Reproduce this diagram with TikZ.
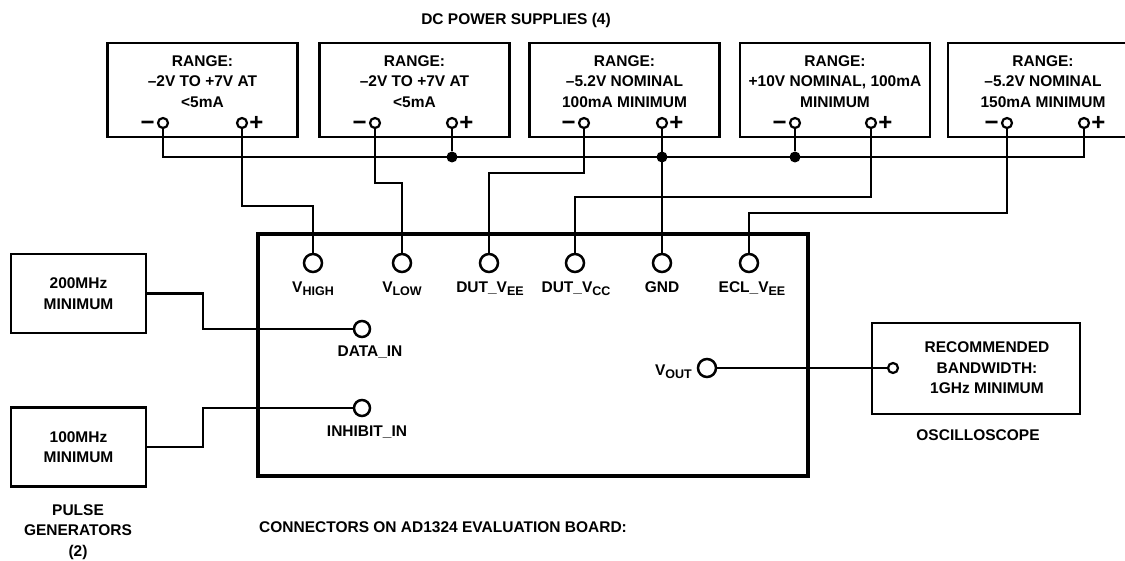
\documentclass[tikz,border=0pt]{standalone}
\usepackage{fontspec}
\setmainfont{Liberation Sans}
\usetikzlibrary{positioning}
\newcommand\lowsub[1]{\raisebox{-3pt}{\fontsize{12.5}{12.5}\selectfont #1}}
\tikzset{every node/.style={font=\bfseries\fontsize{15.5}{20.5}\selectfont},
 psbox/.style={draw,line width=2.6pt,minimum width=190pt,minimum height=94pt,align=center,inner sep=0pt},
 genbox/.style={draw,line width=2.6pt,minimum width=135pt,minimum height=79pt,align=center,inner sep=0pt},
 board/.style={draw,line width=3.8pt,minimum width=550pt,minimum height=242pt,inner sep=0pt},
 term/.style={circle,draw,fill=white,line width=2.2pt,minimum size=10pt,inner sep=0pt},
 pin/.style={circle,draw,fill=white,line width=2.5pt,minimum size=18pt,inner sep=0pt},
 dot/.style={circle,fill=black,minimum size=11pt,inner sep=0pt},
 sign/.style={inner sep=0pt,text height=16pt,text depth=0pt,font=\bfseries\fontsize{24}{24}\selectfont},
 pinlabel/.style={anchor=base,inner sep=0pt},
 plain/.style={align=center,inner sep=0pt},
 wire/.style={draw,line width=2.3pt},
 }

\begin{document}
\begin{tikzpicture}[x=1pt,y=-1pt]
        \useasboundingbox (0,0) rectangle (1125,561);
        \node[plain] (dctitle) at (516,20) {DC POWER SUPPLIES (4)};
        \node[psbox] (ps1) at (202.5,90) {\strut RANGE:\\--2V TO +7V AT\\<5mA\\\mbox{}};
        \node[psbox] (ps2) at (414.5,90) {\strut RANGE:\\--2V TO +7V AT\\<5mA\\\mbox{}};
        \node[psbox] (ps3) at (624.5,90) {\strut RANGE:\\--5.2V NOMINAL\\100mA MINIMUM\\\mbox{}};
        \node[psbox] (ps4) at (835,90) {\strut RANGE:\\+10V NOMINAL, 100mA\\MINIMUM\\\mbox{}};
        \node[psbox] (ps5) at (1043,90) {\strut RANGE:\\--5.2V NOMINAL\\150mA MINIMUM\\\mbox{}};
        \node[term] (p1m) at (163,123) {};
        \node[term] (p1p) at (242,123) {};
        \node[term] (p2m) at (375,123) {};
        \node[term] (p2p) at (452,123) {};
        \node[term] (p3m) at (584,123) {};
        \node[term] (p3p) at (662,123) {};
        \node[term] (p4m) at (795,123) {};
        \node[term] (p4p) at (871,123) {};
        \node[term] (p5m) at (1007,123) {};
        \node[term] (p5p) at (1084,123) {};
        \node[sign,left=2pt of p1m] (s1m) {−};
        \node[sign,right=1pt of p1p] (s1p) {+};
        \node[sign,left=2pt of p2m] (s2m) {−};
        \node[sign,right=1pt of p2p] (s2p) {+};
        \node[sign,left=2pt of p3m] (s3m) {−};
        \node[sign,right=1pt of p3p] (s3p) {+};
        \node[sign,left=2pt of p4m] (s4m) {−};
        \node[sign,right=1pt of p4p] (s4p) {+};
        \node[sign,left=2pt of p5m] (s5m) {−};
        \node[sign,right=1pt of p5p] (s5p) {+};
        \coordinate (bus) at (0,157);
        \draw[wire] (p1m) |- (bus -| p5p) -- (p5p);
        \node[dot] (j2) at (bus -| p2p) {};
        \node[dot] (j3) at (bus -| p3p) {};
        \node[dot] (j4) at (bus -| p4m) {};
        \draw[wire] (p2p) -- (j2);
        \draw[wire] (p4m) -- (j4);
        \node[board] (brd) at (533,355) {};
        \node[pin] (vhigh) at (313,263) {};
        \node[pin] (vlow) at (402,263) {};
        \node[pin] (dutvee) at (489,263) {};
        \node[pin] (dutvcc) at (575,263) {};
        \node[pin] (gnd) at (662,263) {};
        \node[pin] (eclvee) at (749,263) {};
        \node[pinlabel] (lvhigh) at (313,293) {V\lowsub{HIGH}};
        \node[pinlabel] (lvlow) at (402,293) {V\lowsub{LOW}};
        \node[pinlabel] (ldutvee) at (490,293) {DUT\_V\lowsub{EE}};
        \node[pinlabel] (ldutvcc) at (576,293) {DUT\_V\lowsub{CC}};
        \node[pinlabel] (lgnd) at (662,293) {GND};
        \node[pinlabel] (leclvee) at (752,293) {ECL\_V\lowsub{EE}};
        \draw[wire] (p1p) -- (p1p |- 0,206) -| (vhigh);
        \draw[wire] (p2m) -- (p2m |- 0,183) -| (vlow);
        \draw[wire] (p3m) -- (p3m |- 0,173) -| (dutvee);
        \draw[wire] (p3p) -- (gnd);
        \draw[wire] (p4p) -- (p4p |- 0,197) -| (dutvcc);
        \draw[wire] (p5m) -- (p5m |- 0,213) -| (eclvee);
        \node[pin,minimum size=16pt] (datain) at (362,329) {};
        \node[pin,minimum size=16pt] (inhibit) at (362,408) {};
        \node[pinlabel] (ldatain) at (370,357) {DATA\_IN};
        \node[pinlabel] (linhibit) at (367,436) {INHIBIT\_IN};
        \node[genbox] (pg1) at (78.5,293.5) {200MHz\\MINIMUM};
        \node[genbox] (pg2) at (78.5,447) {100MHz\\MINIMUM};
        \draw[wire] (pg1.east) -- (pg1.east -| 203,0) |- (datain);
        \draw[wire] (pg2.east) -- (pg2.east -| 203,0) |- (inhibit);
        \node[plain] (pgtitle) at (78,532) {PULSE\\GENERATORS\\(2)};
        \node[plain,anchor=west] (brdtitle) at (259,527) {CONNECTORS ON AD1324 EVALUATION BOARD:};
        \node[pin] (vout) at (707,368) {};
        \node[pinlabel,anchor=base east] (lvout) at (692,375) {V\lowsub{OUT}};
        \node[genbox,minimum width=208pt,minimum height=91pt] (osc) at (976,368.5) {};
        \node[term] (oscin) at (893,368) {};
        \node[plain] (osctxt) at (987,368) {RECOMMENDED\\BANDWIDTH:\\1GHz MINIMUM};
        \node[plain] (osctitle) at (978,435) {OSCILLOSCOPE};
        \draw[wire] (vout) -- (oscin);
    \end{tikzpicture}
\end{document}
